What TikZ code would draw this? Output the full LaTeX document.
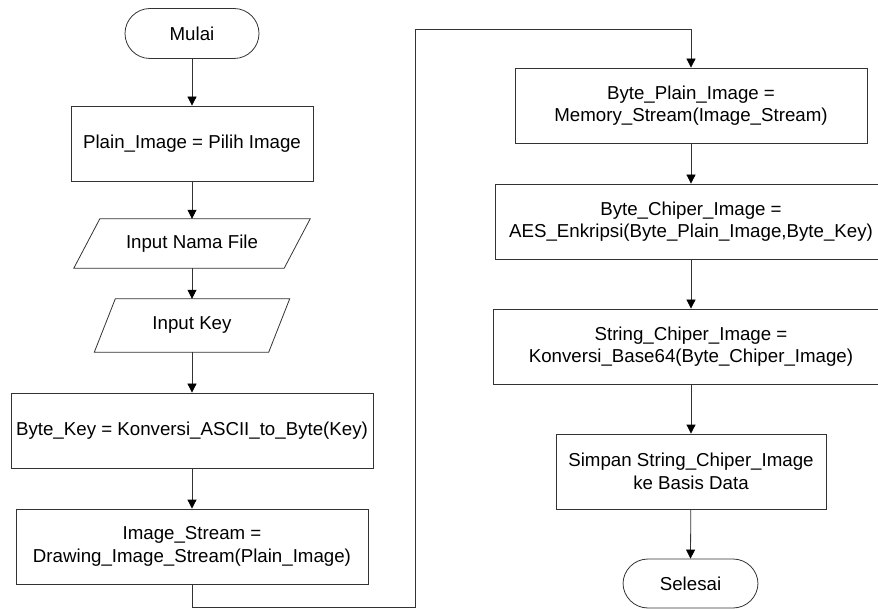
\documentclass[tikz,border=0pt]{standalone}
\usepackage{fontspec}
\setmainfont{Liberation Sans}
\usetikzlibrary{arrows.meta}
\begin{document}
\begin{tikzpicture}[x=1pt,y=-1pt,
  flow/.style={draw=black!80, line width=0.8pt},
  txt/.style={inner sep=0pt, align=center, font=\fontsize{18.7}{22.4}\selectfont},
  proc/.style={flow, txt, rectangle, minimum height=75pt},
  term/.style={flow, txt, rectangle, rounded corners=25pt, minimum height=50pt},
  iobox/.style={txt, rectangle},
  arr/.style={flow, -{Triangle[width=9pt,length=9pt,color=black]}}]
\useasboundingbox (0,0) rectangle (878,609);
\clip (0,0) rectangle (878,609);

% left column
\node[term, minimum width=134pt] (start) at (192,33.5) {Mulai};
\node[proc, minimum width=242pt] (plain) at (192,143.5) {Plain\_Image = Pilih Image};
\node[iobox, minimum width=210pt, minimum height=49pt] (fname) at (192,243.5) {Input Nama File};
\node[iobox, minimum width=174pt, minimum height=53pt] (inkey) at (192,325.5) {Input Key};
\node[proc, minimum width=362pt] (bkey) at (192,430.5) {Byte\_Key = Konversi\_ASCII\_to\_Byte(Key)};
\node[proc, minimum width=352pt] (istream) at (192,546.5) {Image\_Stream =\\Drawing\_Image\_Stream(Plain\_Image)};

% input parallelograms
\draw[flow] ([xshift=13pt]fname.north west) -- ([xshift=13pt]fname.north east)
  -- ([xshift=-13pt]fname.south east) -- ([xshift=-13pt]fname.south west) -- cycle;
\draw[flow] ([xshift=10.5pt]inkey.north west) -- ([xshift=10.5pt]inkey.north east)
  -- ([xshift=-10.5pt]inkey.south east) -- ([xshift=-10.5pt]inkey.south west) -- cycle;

% right column
\node[proc, minimum width=352pt] (bplain) at (691,105.5) {Byte\_Plain\_Image =\\Memory\_Stream(Image\_Stream)};
\node[proc, minimum width=392pt] (bcipher) at (691,221.5) {Byte\_Chiper\_Image =\\AES\_Enkripsi(Byte\_Plain\_Image,Byte\_Key)};
\node[proc, minimum width=396pt] (scipher) at (691,346.5) {String\_Chiper\_Image =\\Konversi\_Base64(Byte\_Chiper\_Image)};
\node[proc, minimum width=270pt] (save) at (691,471.5) {Simpan String\_Chiper\_Image\\ke Basis Data};
\node[term, minimum width=135pt, minimum height=49pt] (stop) at (690.5,583.5) {Selesai};

% connectors
\coordinate (loopbot) at (415,607.5);
\coordinate (looptop) at (415,29);
\draw[arr] (start) -- (plain);
\draw[arr] (plain) -- (fname);
\draw[arr] (fname) -- (inkey);
\draw[arr] (inkey) -- (bkey);
\draw[arr] (bkey) -- (istream);
\draw[arr] (istream.south) |- (loopbot) -- (looptop) -| (bplain.north);
\draw[arr] (bplain) -- (bcipher);
\draw[arr] (bcipher) -- (scipher);
\draw[arr] (scipher) -- (save);
\draw[arr] (save) -- (stop.north);
\end{tikzpicture}
\end{document}
